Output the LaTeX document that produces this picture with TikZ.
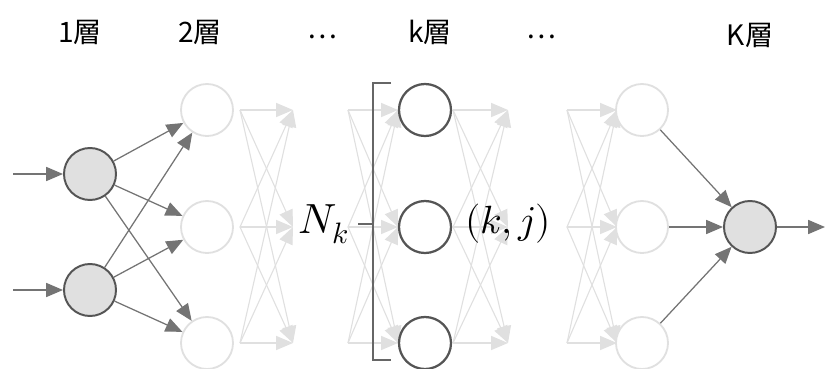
\documentclass[tikz,border=0pt]{standalone}
\usepackage{fontspec}
\usepackage{unicode-math}
\newfontfamily\jpfont{Noto Sans CJK JP}
\usetikzlibrary{arrows.meta}
\definecolor{unitgray}{HTML}{E0E0E0}
\definecolor{rimgray}{HTML}{555555}
\definecolor{linkgray}{HTML}{747474}
\definecolor{fadegray}{HTML}{E0E0E0}

\begin{document}
\begin{tikzpicture}[x=0.025cm,y=-0.025cm,
    unit/.style={circle,minimum size=1.3cm,inner sep=0pt},
    inunit/.style={unit,draw=rimgray,fill=unitgray,line width=1.4pt},
    kunit/.style={unit,draw=rimgray,fill=white,line width=1.6pt},
    faint/.style={unit,draw=fadegray,fill=white,line width=1.3pt},
    link/.style={draw=linkgray,line width=0.9pt,-{Triangle[length=12pt,width=10pt]}},
    fade/.style={draw=fadegray,line width=0.8pt,-{Triangle[length=12pt,width=10pt]}},
    title/.style={font=\jpfont\fontsize{20}{24}\selectfont,anchor=base,inner sep=0pt},
    brace/.style={draw=rimgray!90,line width=2pt}]
  \useasboundingbox (0,0) rectangle (825,369);
  \def\ya{110}
  \def\yb{227}
  \def\yc{343}
  % layer titles
  \node[title] (t1) at (80,42) {1層};
  \node[title] (t2) at (200,42) {2層};
  \node[title] (dots1) at (322,38) {…};
  \node[title] (tk) at (430,42) {k層};
  \node[title] (dots2) at (541,38) {…};
  \node[title] (tK) at (750,45) {K層};
  % faded connections between hidden layers
  \foreach \g/\xs/\xe in {1/240/293, 2/348/398, 3/453/508, 4/567/617}
    \foreach \j/\y in {1/\ya,2/\yb,3/\yc} {
      \coordinate (s\g\j) at (\xs,\y);
      \coordinate (e\g\j) at (\xe,\y);
    }
  \foreach \g in {1,...,4}
    \foreach \i in {1,2,3}
      \foreach \j in {1,2,3}
        \draw[fade] (s\g\i) -- (e\g\j);
  % units
  \node[inunit] (a1) at (90,174) {};
  \node[inunit] (a2) at (90,290) {};
  \foreach \j/\y in {1/\ya,2/\yb,3/\yc} {
    \node[faint] (b\j) at (207,\y) {};
    \node[kunit] (k\j) at (425,\y) {};
    \node[faint] (c\j) at (642,\y) {};
  }
  \node[inunit] (out) at (750,227) {};
  % inputs and output
  \coordinate (in1) at (13,174);
  \coordinate (in2) at (13,290);
  \coordinate (res) at (825,227);
  \draw[link] (in1) -- (a1);
  \draw[link] (in2) -- (a2);
  \draw[link] (out) -- (res);
  % 1st -> 2nd layer, last hidden -> K-th layer
  \foreach \i in {1,2}
    \foreach \j in {1,2,3}
      \draw[link] (a\i) -- (b\j);
  \foreach \j in {1,2,3}
    \draw[link] (c\j) -- (out);
  % bracket over the k-th layer
  \draw[brace] (391,83) -- (373,83) -- (373,360) -- (391,360);
  \draw[brace] (373,224) -- (358,224);
  \node[font=\fontsize{30}{36}\selectfont,anchor=base,inner sep=0pt] (nk) at (324,233) {$N_k$};
  \node[font=\fontsize{28}{34}\selectfont,anchor=base,inner sep=0pt] (kj) at (508,233) {$(k,j)$};
\end{tikzpicture}
\end{document}
